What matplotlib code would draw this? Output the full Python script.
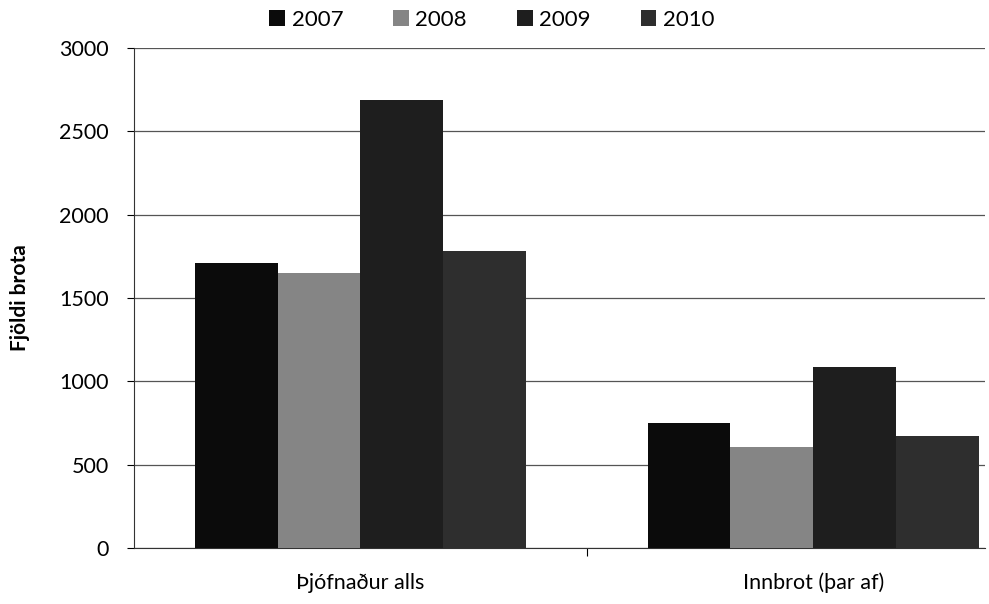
import matplotlib.pyplot as plt
import numpy as np

plt.rcParams['font.family'] = ['Lato', 'DejaVu Sans']

# Gögn
categories = ['Þjófnaður alls', 'Innbrot (þar af)']
years = ['2007', '2008', '2009', '2010']
values_2007 = [1710, 750]
values_2008 = [1650, 605]
values_2009 = [2690, 1085]
values_2010 = [1780, 670]
yticks = [0, 500, 1000, 1500, 2000, 2500, 3000]

series = [values_2007, values_2008, values_2009, values_2010]
colors = ['#0b0b0b', '#858585', '#1e1e1e', '#2e2e2e']

fig = plt.figure(figsize=(9.89, 6.04), dpi=100)
ax = fig.add_axes([134 / 989, 56 / 604, (985 - 134) / 989, 500 / 604])

x = np.arange(len(categories))
w = 0.183
for i in range(len(series)):
    ax.bar(x + (i - 1.5) * w, series[i], w, color=colors[i],
           label=years[i], zorder=3)

ax.set_ylim(0, 3000)
ax.set_xlim(-0.5, 1.379)
ax.set_yticks(yticks)
ax.set_yticklabels([str(t) for t in yticks], fontsize=15.5)
ax.yaxis.grid(True, color='#555555', linewidth=0.9, zorder=0)

# Kategoríur
ax.set_xticks([0.5])
ax.set_xticklabels([''])
ax.tick_params(axis='x', direction='out', length=6, width=0.8)
ax.tick_params(axis='y', direction='out', length=5, width=0.8, pad=13)
for xi, name in zip(x, categories):
    ax.text(xi, -210, name, ha='center', va='center', fontsize=15.5)

for s in ['top', 'right']:
    ax.spines[s].set_visible(False)
ax.spines['left'].set_color('#333333')
ax.spines['bottom'].set_color('#333333')

ax.set_ylabel('Fjöldi brota', fontsize=15, fontweight='bold')
ax.yaxis.set_label_coords(-(134 - 30) / 851, 0.5)

fig.legend(loc='center', bbox_to_anchor=(492 / 989, 1 - 20 / 604), ncol=4,
           frameon=False, fontsize=16, handlelength=0.7, handleheight=0.7,
           columnspacing=2.25, handletextpad=0.3)

fig.savefig('out.png', dpi=100)
